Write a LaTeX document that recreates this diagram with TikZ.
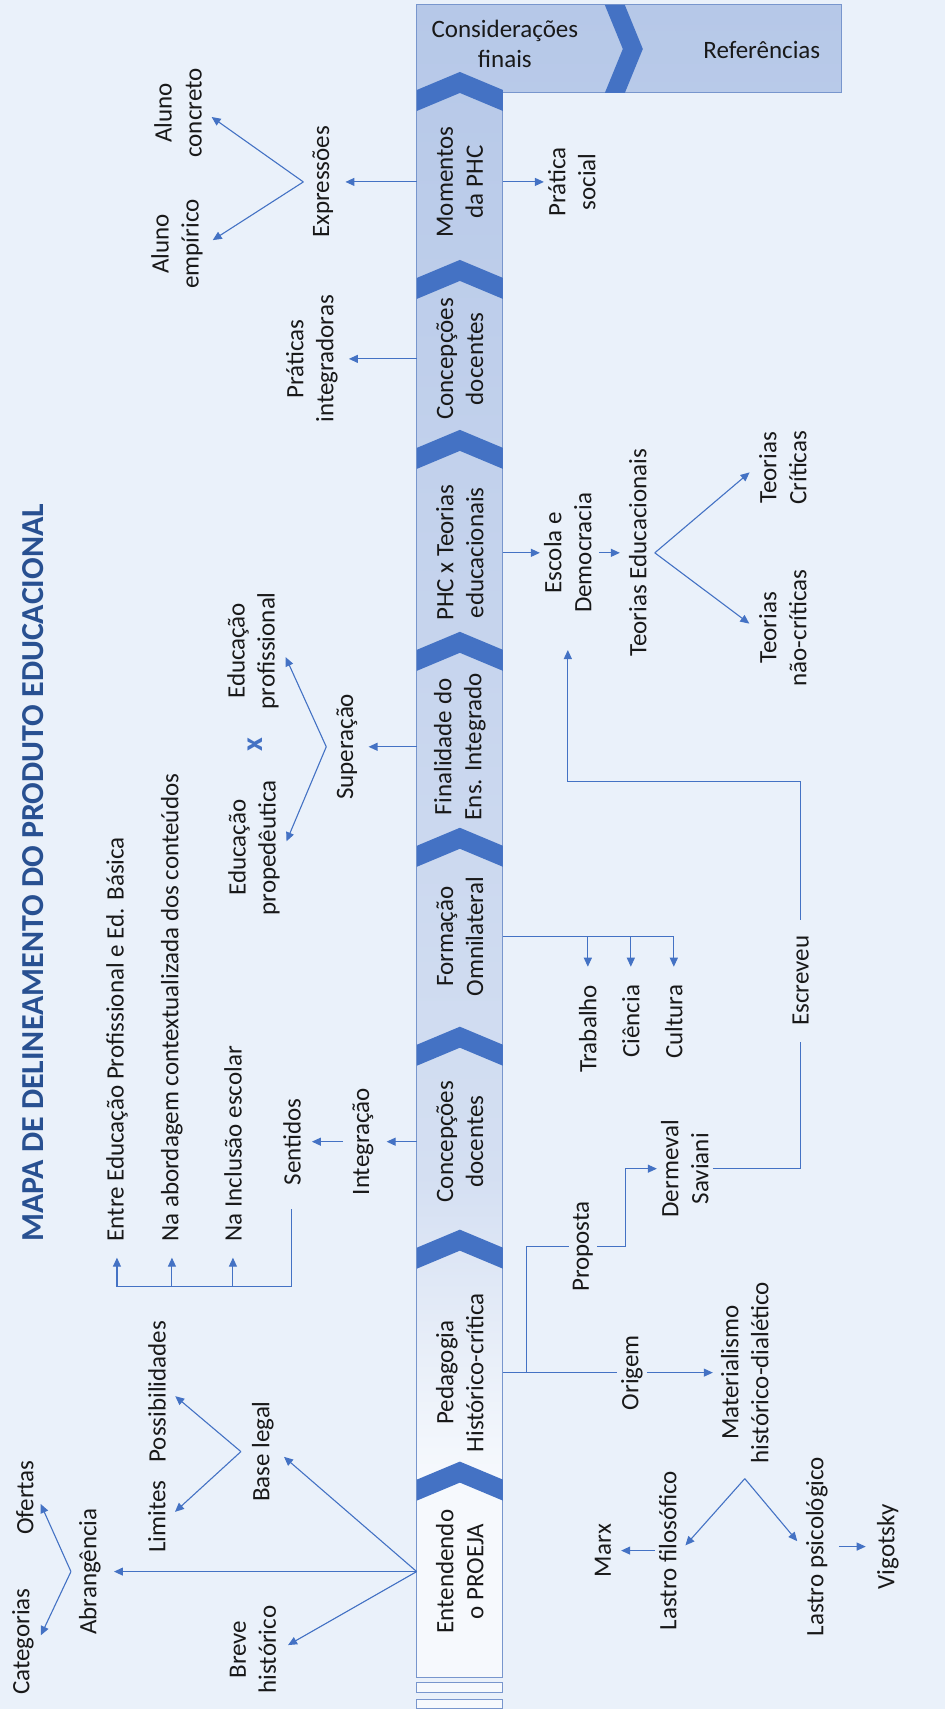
\documentclass[tikz,border=0pt]{standalone}
\usepackage{fontspec}
\setmainfont{Carlito}
\usetikzlibrary{arrows.meta,positioning}
\definecolor{bgblue}{RGB}{234,241,250}
\definecolor{lineblue}{RGB}{68,114,196}
\definecolor{chevblue}{RGB}{68,114,196}
\definecolor{bandlight}{RGB}{246,249,253}
\definecolor{bandmid}{RGB}{212,223,242}
\definecolor{banddark}{RGB}{182,200,232}
\definecolor{bandline}{RGB}{120,150,205}
\definecolor{titleblue}{RGB}{40,80,145}
\pgfdeclareverticalshading{bandshade}{100bp}{color(0bp)=(bandlight); color(25bp)=(bandlight); color(31bp)=(bandlight); color(40bp)=(bandmid); color(75bp)=(banddark); color(100bp)=(banddark)}
\tikzset{
  lbl/.style={font=\fontsize{25}{30}\selectfont, align=center, inner sep=4pt, text=black!90},
  seg/.style={lbl, minimum height=86pt, inner sep=0pt},
  arr/.style={draw=lineblue, line width=1.1pt, -{Triangle[length=9pt,width=8pt]}},
  br/.style={arr, shorten >=7pt},
  ln/.style={draw=lineblue, line width=1.1pt},
}
\begin{document}
\begin{tikzpicture}[rotate=90, transform shape, x=1pt, y=1pt]
\fill[bgblue] (0,0) rectangle (1709,945);
\shade[shading=bandshade] (31,442) -- (31,528) -- (1704,528) -- (1704,103) -- (1616,103) -- (1616,442) -- cycle;
\path[draw=bandline, line width=1pt] (31,442) -- (31,528) -- (1704,528) -- (1704,103) -- (1616,103) -- (1616,442) -- cycle;
\path[draw=bandline, fill=bandlight, line width=0.9pt] (16,442) rectangle (26,528);
\path[draw=bandline, fill=bandlight, line width=0.9pt] (0,442) rectangle (9,528);
\foreach \t in {247,479,682,881,1077,1279,1449,1637}
  \fill[chevblue] (\t-18,442) -- (\t,485) -- (\t-18,528) -- (\t-39,528) -- (\t-21,485) -- (\t-39,442) -- cycle;
\fill[chevblue] (1704,340) -- (1704,320) -- (1660,302) -- (1616,320) -- (1616,340) -- (1660,322) -- cycle;

\node[seg] (proeja) at (137,485) {Entendendo\\o PROEJA};
\node[seg] (pedagogia) at (336,485) {Pedagogia\\Histórico-crítica};
\node[seg] (concep-a) at (567,485) {Concepções\\docentes};
\node[seg] (omni) at (772,485) {Formação\\Omnilateral};
\node[seg] (finalidade) at (962,485) {Finalidade do\\Ens. Integrado};
\node[seg] (phcteorias) at (1156,485) {PHC x Teorias\\educacionais};
\node[seg] (concep-b) at (1350,485) {Concepções\\docentes};
\node[seg] (momentos) at (1527,485) {Momentos\\da PHC};
\node[lbl, rotate=-90] (consid) at (1665,440) {Considerações\\finais};
\node[lbl, rotate=-90] (refs) at (1659,183) {Referências};

\node[font=\fontsize{32}{38}\selectfont\bfseries, text=titleblue] (titulo) at (836,912) {MAPA DE DELINEAMENTO DO PRODUTO EDUCACIONAL};

\node[lbl] (expressoes) at (1527,622) {Expressões};
\node[lbl] (alunoc) at (1596,767) {Aluno\\concreto};
\node[lbl] (alunoe) at (1465,768) {Aluno\\empírico};
\node[lbl] (praticas) at (1350,633) {Práticas\\integradoras};
\node[lbl] (superacao) at (962,598) {Superação};
\node[lbl] (edprof) at (1058,692) {Educação\\profissional};
\node[font=\fontsize{30}{30}\selectfont\bfseries, text=lineblue] (xmark) at (964,690) {x};
\node[lbl] (edprop) at (861,691) {Educação\\propedêutica};
\node[lbl] (integracao) at (567,582) {Integração};
\node[lbl] (sentidos) at (567,653) {Sentidos};
\node[lbl, anchor=west] (entre) at (463,828) {Entre Educação Profissional e Ed. Básica};
\node[lbl, anchor=west] (abordagem) at (463,773) {Na abordagem contextualizada dos conteúdos};
\node[lbl, anchor=west] (inclusao) at (463,712) {Na Inclusão escolar};
\node[lbl] (baselegal) at (257,682) {Base legal};
\node[lbl] (possib) at (317,788) {Possibilidades};
\node[lbl] (limites) at (192,788) {Limites};
\node[lbl] (abrang) at (137,855) {Abrangência};
\node[lbl] (ofertas) at (211,920) {Ofertas};
\node[lbl] (categorias) at (67,922) {Categorias};
\node[lbl] (breve) at (59,692) {Breve\\histórico};

\node[lbl] (pratica) at (1527,373) {Prática\\social};
\node[lbl] (escola) at (1156,377) {Escola e\\Democracia};
\node[lbl] (teoriasedu) at (1156,307) {Teorias Educacionais};
\node[lbl] (criticas) at (1241,162) {Teorias\\Críticas};
\node[lbl] (naocriticas) at (1081,162) {Teorias\\não-críticas};
\node[lbl, anchor=east] (trabalho) at (728,357) {Trabalho};
\node[lbl, anchor=east] (ciencia) at (728,314) {Ciência};
\node[lbl, anchor=east] (cultura) at (728,271) {Cultura};
\node[lbl, inner xsep=16pt] (escreveu) at (728,144) {Escreveu};
\node[lbl] (dermeval) at (540,260) {Dermeval\\Saviani};
\node[lbl] (proposta) at (462,362) {Proposta};
\node[lbl] (origem) at (336,313) {Origem};
\node[lbl] (materialismo) at (336,200) {Materialismo\\histórico-dialético};
\node[lbl] (lfilos) at (158,277) {Lastro filosófico};
\node[lbl] (marx) at (158,342) {Marx};
\node[lbl] (lpsico) at (162,128) {Lastro psicológico};
\node[lbl] (vigotsky) at (162,57) {Vigotsky};

\coordinate (expr-b) at ([yshift=5pt]expressoes.north);
\coordinate (sup-b) at ([yshift=6pt]superacao.north);
\coordinate (sent-c) at (422,653);
\coordinate (bl-b) at ([yshift=7pt]baselegal.north);
\coordinate (abr-b) at ([yshift=4pt]abrang.north);
\coordinate (teo-b) at ([yshift=-4pt]teoriasedu.south);
\coordinate (ped-b) at (336,418);
\coordinate (mat-b) at ([xshift=-11pt]materialismo.west);

\path[arr, shorten >=8pt] (momentos.north) -- (expressoes.south);
\path[br] (expr-b) -- (alunoc.south);
\path[br] (expr-b) -- (alunoe.south);
\path[arr] (momentos.south) -- (pratica.north);
\path[arr, shorten >=7pt] (concep-b.north) -- (praticas.south);
\path[arr] (phcteorias.south) -- (escola.north);
\path[arr, shorten <=3pt, shorten >=5pt] (escola.south) -- (teoriasedu.north);
\path[br] (teo-b) -- (criticas.north);
\path[br] (teo-b) -- (naocriticas.north);
\path[arr, shorten >=7pt] (finalidade.north) -- (superacao.south);
\path[br] (sup-b) -- (edprof.south);
\path[br] (sup-b) -- (edprop.south);
\path[ln] (omni.south) -- (omni.south |- cultura.east);
\foreach \n in {trabalho,ciencia,cultura}
  \path[arr, shorten >=14pt] (omni.south |- \n.east) -- (\n.east);
\path[arr, shorten >=9pt] (concep-a.north) -- (integracao.south);
\path[arr, shorten <=5pt, shorten >=7pt] (integracao.north) -- (sentidos.south);
\path[ln] ([xshift=-20pt]sentidos.west) -- (sent-c) -- (sent-c |- entre.west);
\foreach \n in {entre,abordagem,inclusao}
  \path[arr, shorten >=12pt] (sent-c |- \n.west) -- (\n.west);
\path[ln] (pedagogia.south) -- (origem.north);
\path[ln] (ped-b) -| (proposta.north);
\path[arr] (proposta.south) -- ++(0,-28) -| (dermeval.north);
\path[ln] (dermeval.south) |- (escreveu.west);
\path[arr, shorten >=33pt] (escreveu.east) -- ++(138,0) |- (escola.west);
\path[arr, shorten >=4pt] (origem.south) -- (materialismo.north);
\path[br] (mat-b) -- (lfilos.south);
\path[br] (mat-b) -- (lpsico.north);
\path[arr, shorten >=6pt] (lfilos.north) -- (marx.south);
\path[arr, shorten <=7pt, shorten >=7pt] (lpsico.south) -- (vigotsky.north);
\path[arr, shorten >=9pt] (proeja.north) -- (abrang.south);
\path[arr, shorten >=8pt] (proeja.north) -- (baselegal.south);
\path[arr, shorten >=9pt] (proeja.north) -- (breve.south);
\path[br] (bl-b) -- (possib.south);
\path[br] (bl-b) -- (limites.south);
\path[br] (abr-b) -- (ofertas.south);
\path[br] (abr-b) -- (categorias.south);
\end{tikzpicture}
\end{document}
